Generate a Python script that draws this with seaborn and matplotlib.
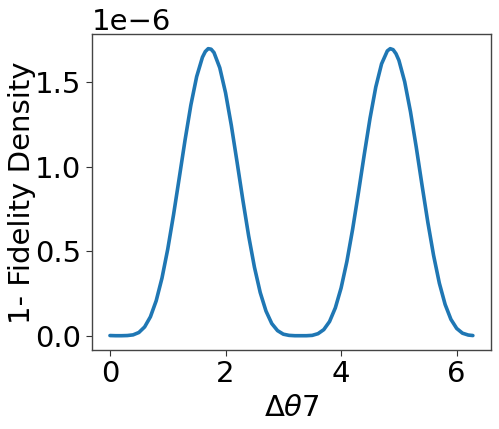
import numpy as np
import matplotlib
matplotlib.use("Agg")
import matplotlib.pyplot as plt
import seaborn as sns

sns.set_style("ticks")
plt.rcParams['font.family'] = ['DejaVu Sans']
plt.rcParams['text.color'] = 'black'
plt.rcParams['axes.labelcolor'] = 'black'
plt.rcParams['xtick.color'] = 'black'
plt.rcParams['ytick.color'] = 'black'

# values (y in units of 1e-6)
delta_theta = [0.0, 0.1, 0.2, 0.3, 0.4, 0.5, 0.6, 0.7, 0.8, 0.9,
               1.0, 1.1, 1.2, 1.3, 1.4, 1.5, 1.6, 1.65, 1.7, 1.75, 1.8, 1.9,
               2.0, 2.1, 2.2, 2.3, 2.4, 2.5, 2.6, 2.7, 2.8, 2.9,
               3.0, 3.1, 3.2, 3.3, 3.4, 3.5, 3.6, 3.7, 3.8, 3.9,
               4.0, 4.1, 4.2, 4.3, 4.4, 4.5, 4.6, 4.7, 4.8, 4.85, 4.9, 4.95,
               5.0, 5.1, 5.2, 5.3, 5.4, 5.5, 5.6, 5.7, 5.8, 5.9,
               6.0, 6.1, 6.2, 6.28]
infidelity = [0.001, 0.0, 0.0, 0.001, 0.005, 0.019, 0.052, 0.112, 0.207, 0.341,
              0.513, 0.716, 0.937, 1.160, 1.366, 1.534, 1.649, 1.683, 1.700, 1.697, 1.677, 1.587,
              1.439, 1.246, 1.027, 0.803, 0.591, 0.406, 0.256, 0.146, 0.072, 0.030,
              0.009, 0.002, 0.0, 0.0, 0.0, 0.002, 0.012, 0.036, 0.084, 0.165,
              0.283, 0.440, 0.632, 0.848, 1.072, 1.287, 1.473, 1.610, 1.687, 1.700, 1.694, 1.670,
              1.631, 1.504, 1.327, 1.117, 0.892, 0.673, 0.476, 0.311, 0.185, 0.097,
              0.043, 0.015, 0.004, 0.001]

y = np.array(infidelity) * 1e-6

fig, ax = plt.subplots(figsize=(4.99, 4.29), dpi=100)
fig.subplots_adjust(left=0.184, right=0.984, bottom=0.184, top=0.92)

sns.lineplot(x=delta_theta, y=y, ax=ax, color="#1f77b4", linewidth=2.6)
ax.lines[0].set_solid_joinstyle("round")

ax.set_xlabel(r"$\Delta\theta 7$", fontsize=21)
ax.set_ylabel("1- Fidelity Density", fontsize=21, labelpad=-1)
ax.tick_params(labelsize=21, direction="out", length=4, color="#333333")
ax.yaxis.get_offset_text().set_fontsize(21)
ax.set_xticks([0, 2, 4, 6])
for s in ax.spines.values():
    s.set_color("#444444")
    s.set_linewidth(1.0)

fig.savefig("out.png", dpi=100)
